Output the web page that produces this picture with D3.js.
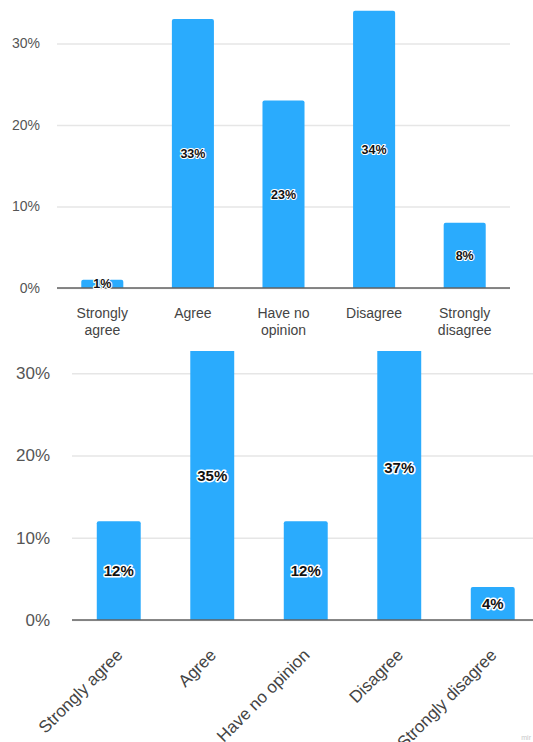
<!DOCTYPE html>
<html>
<head>
<meta charset="utf-8">
<script src="https://cdn.jsdelivr.net/npm/d3@7"></script>
<style>
  html, body { margin: 0; padding: 0; background: #fff; }
  svg { display: block; font-family: "Liberation Sans", Arial, sans-serif; }
</style>
</head>
<body>
<svg id="chart" width="533" height="742"></svg>
<script>
// Survey answers, two polls
const categories = ["Strongly agree", "Agree", "Have no opinion", "Disagree", "Strongly disagree"];
const topLabels = [["Strongly", "agree"], ["Agree"], ["Have no", "opinion"], ["Disagree"], ["Strongly", "disagree"]];
const pollA = [1, 33, 23, 34, 8];
const pollB = [12, 35, 12, 37, 4];
const yTicks = [0, 10, 20, 30];

const BAR = "#2aabfd";
const svg = d3.select("#chart");

function drawPanel(cfg) {
  const g = svg.append("g");
  const x = d3.scaleBand().domain(categories).range([cfg.x0, cfg.x1])
    .paddingInner(cfg.pad).paddingOuter(cfg.pad / 2);
  const y = d3.scaleLinear().domain([0, cfg.yMax]).range([cfg.base, cfg.top]);

  // gridlines + tick labels
  const yAxis = d3.axisLeft(y).tickValues(yTicks).tickSize(-(cfg.gridEnd - cfg.x0))
    .tickFormat(d => d + "%").tickPadding(cfg.tickPad);
  const ya = g.append("g").attr("transform", `translate(${cfg.x0},0)`).call(yAxis);
  ya.select(".domain").remove();
  ya.selectAll(".tick line").attr("stroke", "#e6e6e6").attr("stroke-width", 1.5);
  ya.selectAll(".tick text").attr("fill", "#555").attr("font-size", cfg.tickFont)
    .attr("font-family", "Liberation Sans, Arial, sans-serif");

  const clipId = "clip" + cfg.id;
  svg.append("clipPath").attr("id", clipId).append("rect")
    .attr("x", 0).attr("y", cfg.top).attr("width", 533).attr("height", cfg.base - cfg.top + 2);

  g.append("g").attr("clip-path", `url(#${clipId})`)
    .selectAll("path").data(cfg.values).join("path")
    .attr("fill", BAR)
    .attr("d", (d, i) => {
      const bx = x(categories[i]), bw = x.bandwidth();
      const top = y(d), bot = y(0), r = 2;
      return `M${bx},${bot}V${top + r}Q${bx},${top} ${bx + r},${top}H${bx + bw - r}Q${bx + bw},${top} ${bx + bw},${top + r}V${bot}Z`;
    });

  // baseline
  g.append("line").attr("x1", cfg.x0).attr("x2", cfg.gridEnd)
    .attr("y1", y(0)).attr("y2", y(0)).attr("stroke", "#606060").attr("stroke-width", 1.6);

  // value labels (dark text with white halo)
  g.selectAll("text.val").data(cfg.values).join("text")
    .attr("class", "val")
    .attr("x", (d, i) => x(categories[i]) + x.bandwidth() / 2)
    .attr("y", d => (y(d) + y(0)) / 2)
    .attr("dy", "0.35em")
    .attr("text-anchor", "middle")
    .attr("font-size", cfg.valFont).attr("font-weight", "bold")
    .attr("fill", "#111").attr("stroke", "#fff").attr("stroke-width", cfg.halo)
    .attr("stroke-linejoin", "round").attr("paint-order", "stroke")
    .text(d => d + "%");

  return { g, x, y };
}

// first poll
const a = drawPanel({ id: "A", x0: 57, x1: 510, gridEnd: 510, pad: 0.536, base: 288, top: 0,
  yMax: 35.33, values: pollA, tickFont: 14, tickPad: 17, valFont: 12.5, halo: 2.2 });
a.g.selectAll("text.cat").data(topLabels).join("text")
  .attr("class", "cat")
  .attr("x", (d, i) => a.x(categories[i]) + a.x.bandwidth() / 2)
  .attr("y", 318)
  .attr("text-anchor", "middle").attr("font-size", 14).attr("fill", "#444")
  .each(function (lines) {
    const t = d3.select(this);
    lines.forEach((l, k) => t.append("tspan")
      .attr("x", t.attr("x")).attr("dy", k === 0 ? 0 : 17).text(l));
  });

// second poll (plot top cut off at ~32.7%)
const b = drawPanel({ id: "B", x0: 72, x1: 539.5, gridEnd: 533, pad: 0.53, base: 620, top: 351,
  yMax: 32.7, values: pollB, tickFont: 17, tickPad: 22, valFont: 15, halo: 3 });
b.g.selectAll("text.cat").data(categories).join("text")
  .attr("class", "cat")
  .attr("transform", (d) => `translate(${b.x(d) + b.x.bandwidth() / 2 + 5},${656}) rotate(-45)`)
  .attr("text-anchor", "end").attr("font-size", 17).attr("fill", "#444")
  .text(d => d);

// small mark in the corner
svg.append("text").attr("x", 531).attr("y", 740).attr("text-anchor", "end")
  .attr("font-size", 7).attr("fill", "#c8c8c8").text("mir");
</script>
</body>
</html>
